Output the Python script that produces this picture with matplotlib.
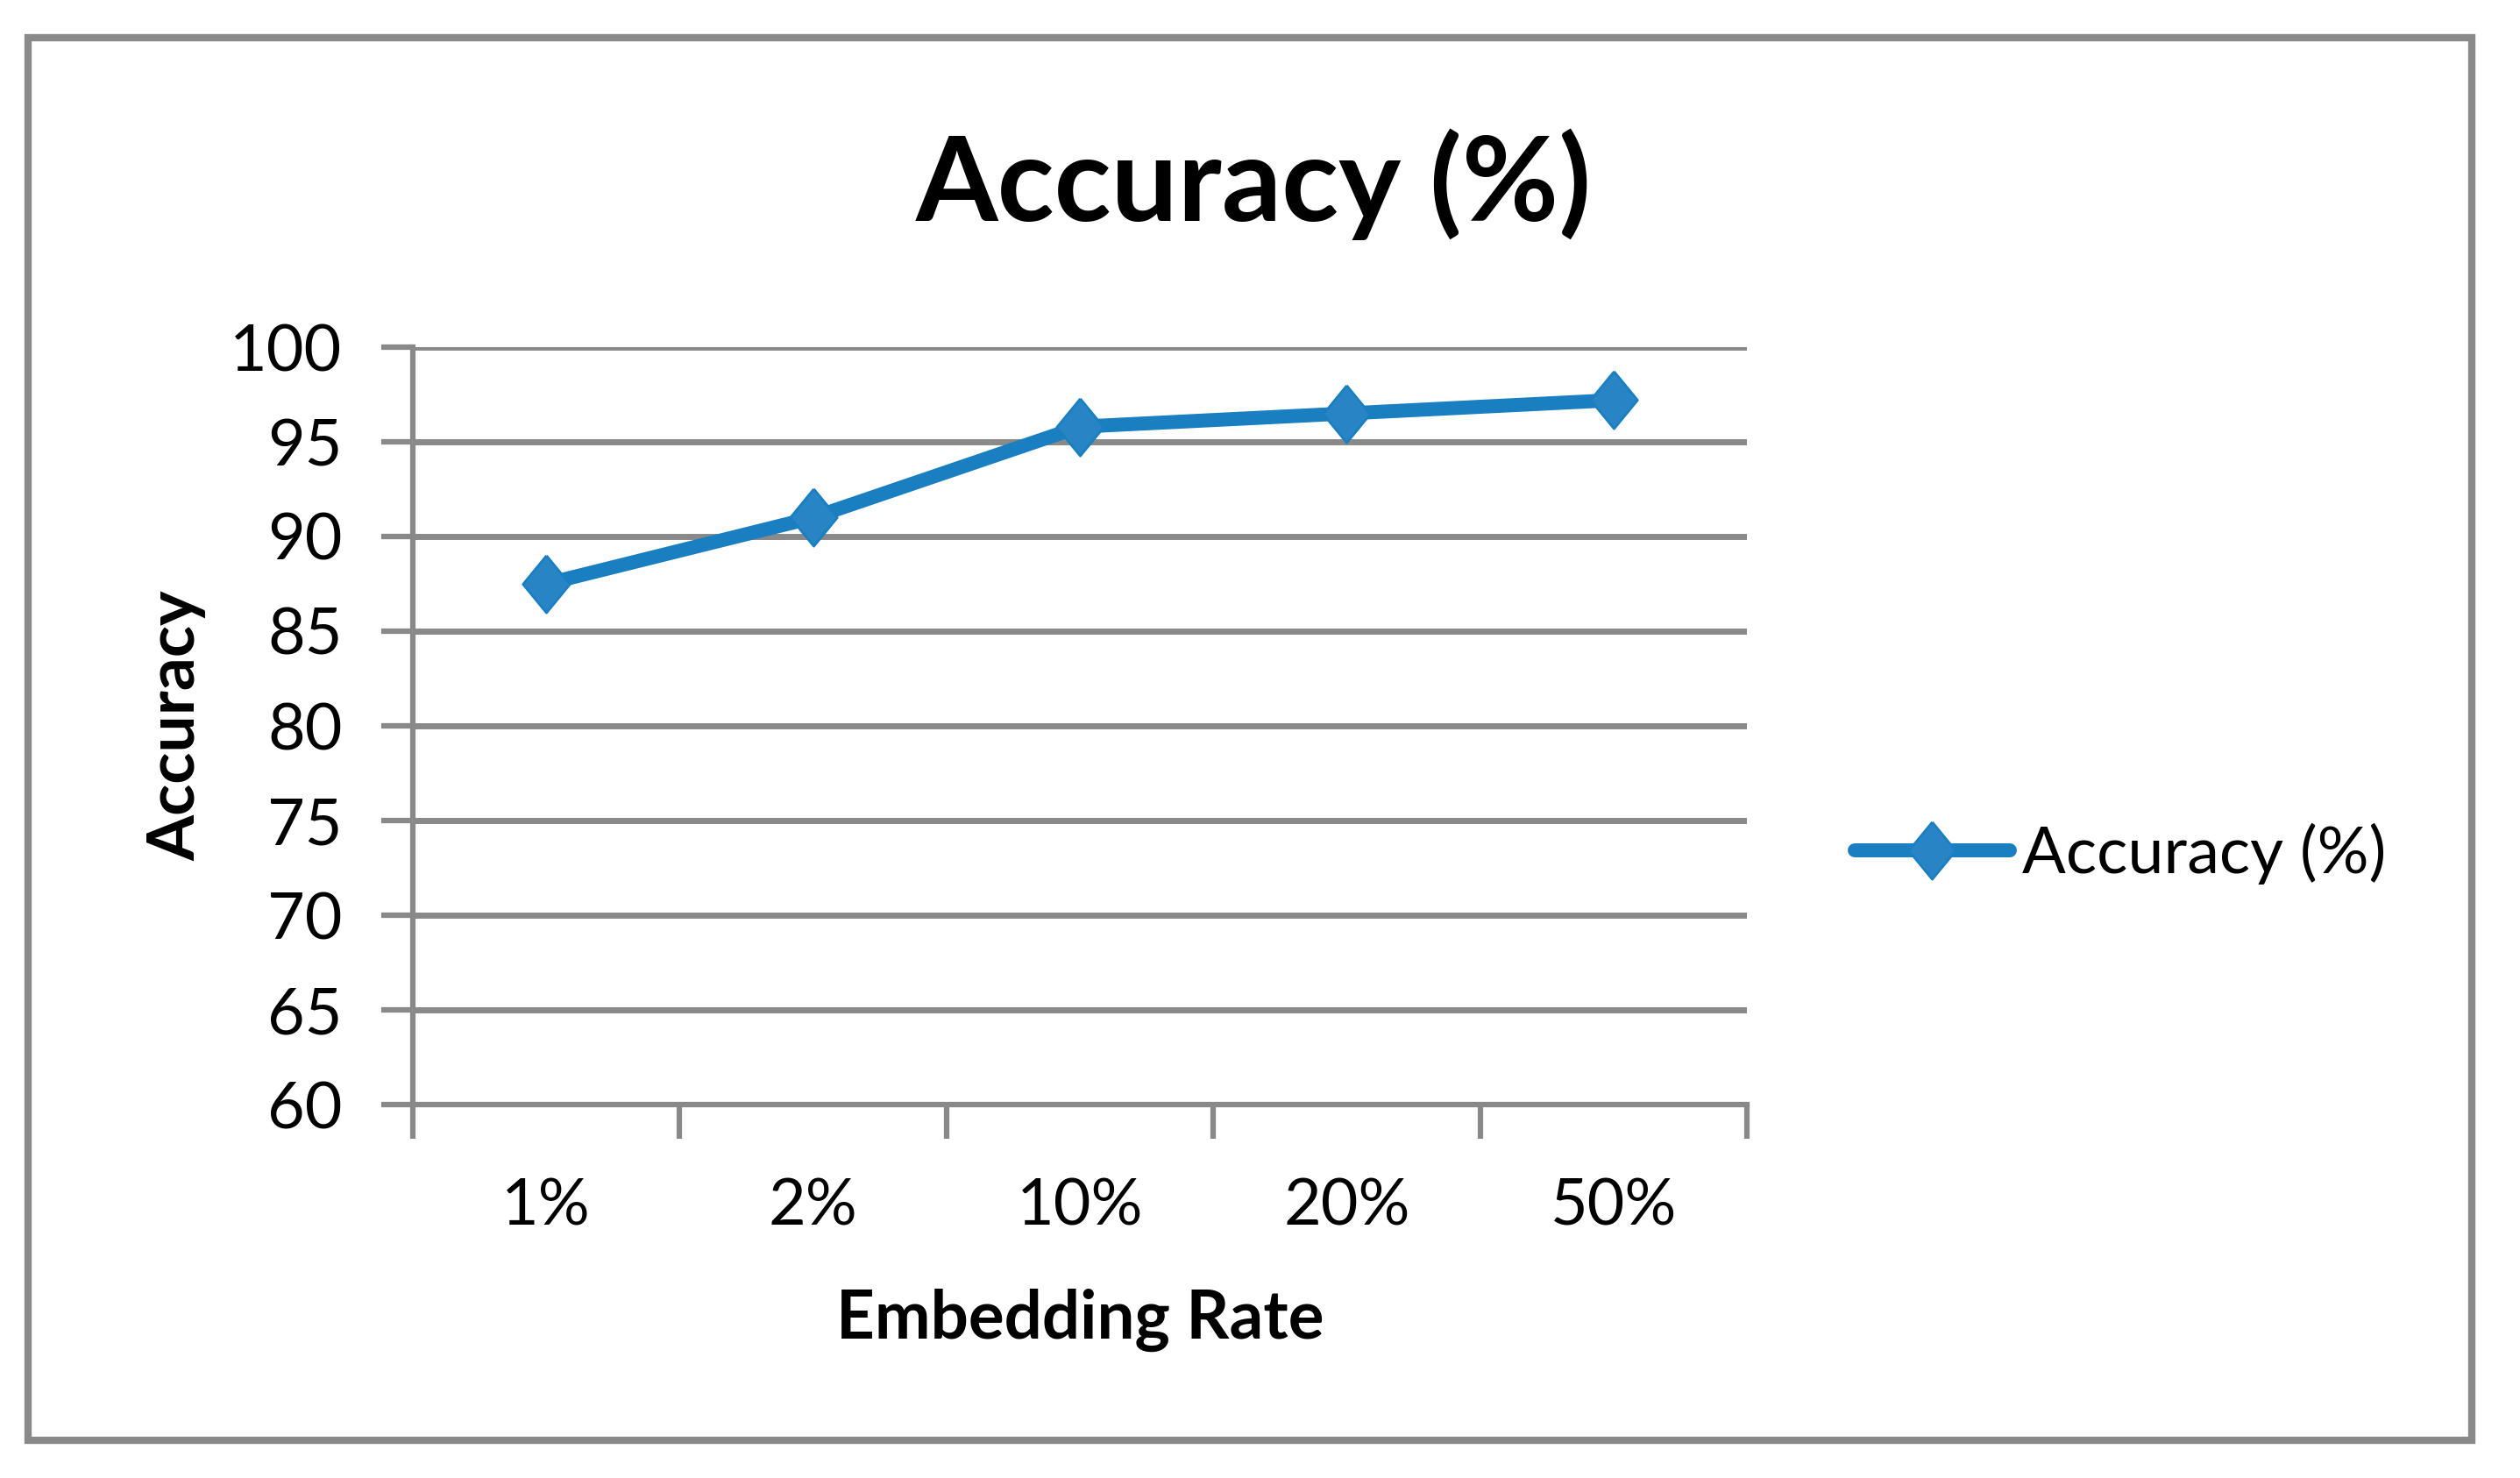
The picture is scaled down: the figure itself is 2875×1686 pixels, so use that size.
import matplotlib

matplotlib.use("Agg")
import matplotlib.pyplot as plt
import numpy as np
from matplotlib.patches import Rectangle
from matplotlib.ticker import FixedLocator, NullFormatter

# data
rates = ["1%", "2%", "10%", "20%", "50%"]
accuracy = [87.5, 91.0, 95.8, 96.5, 97.2]
y_ticks = [60, 65, 70, 75, 80, 85, 90, 95, 100]

W, H, DPI = 2875, 1686, 100
GRAY = "#898989"
BLUE = "#1A7FC1"
MFC = "#2884C4"

plt.rcParams["font.family"] = ["Lato", "DejaVu Sans"]

fig = plt.figure(figsize=(W / DPI, H / DPI), dpi=DPI)
fig.patch.set_facecolor("white")

# plot area in pixel coords of the reference
left, right, top, bottom = 471, 1993, 396, 1260
ax = fig.add_axes([left / W, 1 - bottom / H, (right - left) / W, (bottom - top) / H])

# slightly tall diamond, like the Excel marker
diamond = [(0, 1), (0.82, 0), (0, -1), (-0.82, 0), (0, 1)]

x = np.arange(len(rates))
ax.plot(x, accuracy, color=BLUE, lw=11.5, marker=diamond, ms=47, mfc=MFC, mec=BLUE,
        mew=2, solid_capstyle="round", label="Accuracy (%)", zorder=3, clip_on=False)

ax.set_xlim(-0.5, len(rates) - 0.5)
ax.set_ylim(60, 100)
ax.set_yticks(y_ticks)
ax.yaxis.grid(True, color=GRAY, lw=5)
ax.set_axisbelow(True)

ax.xaxis.set_major_locator(FixedLocator(np.arange(-0.5, len(rates), 1.0)))
ax.xaxis.set_major_formatter(NullFormatter())
ax.xaxis.set_minor_locator(FixedLocator(x))
ax.set_xticklabels(rates, minor=True)
ax.tick_params(axis="x", which="major", length=28, width=4.5, color=GRAY, direction="out")
ax.tick_params(axis="x", which="minor", length=0, pad=60, labelsize=53)
ax.tick_params(axis="y", length=26, width=4.5, color=GRAY, pad=32, labelsize=53)

for s in ("top", "right"):
    ax.spines[s].set_visible(False)
for s in ("left", "bottom"):
    ax.spines[s].set_color(GRAY)
    ax.spines[s].set_linewidth(4.5)

ax.set_ylabel("Accuracy", fontsize=54, fontweight="bold")
ax.yaxis.set_label_coords(-0.155, 0.5)
ax.set_xlabel("Embedding Rate", fontsize=55, fontweight="bold")
ax.xaxis.set_label_coords(0.5, -0.243)

fig.text(1430 / W, 1 - 210 / H, "Accuracy (%)", fontsize=97, fontweight="bold",
         ha="center", va="center")

fig.legend(loc="center left", bbox_to_anchor=(2116 / W, 1 - 974 / H), frameon=False,
           fontsize=53, handlelength=2.4, handletextpad=0.2, borderpad=0, borderaxespad=0)

fig.add_artist(Rectangle((32 / W, 1 - 1643 / H), (2820 - 32) / W, (1643 - 43) / H,
                         transform=fig.transFigure, fill=False, ec=GRAY, lw=6))

fig.savefig("out.png", dpi=DPI)
